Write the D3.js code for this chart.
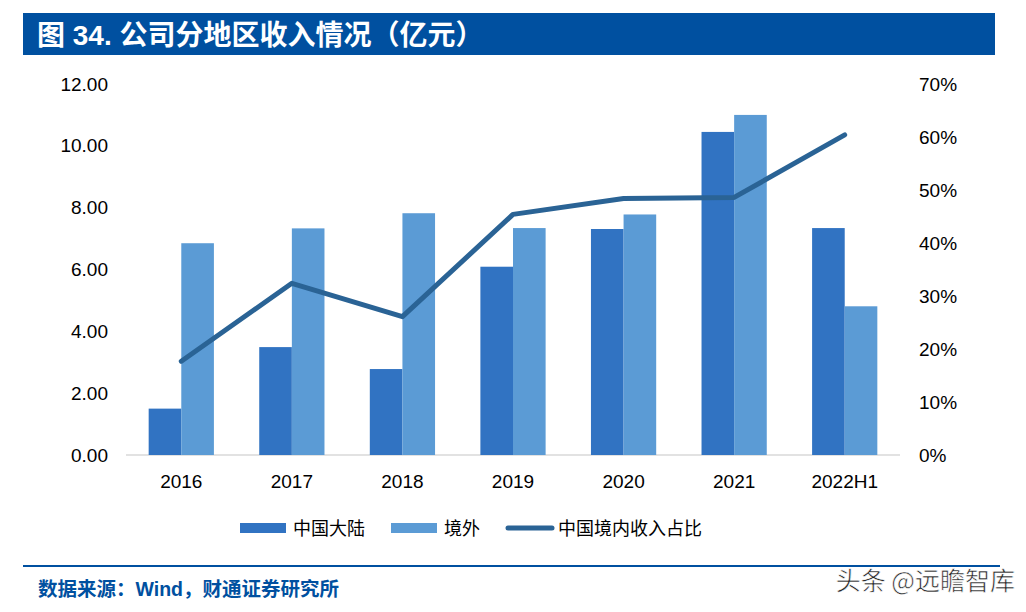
<!DOCTYPE html>
<html><head><meta charset="utf-8">
<script src="https://cdn.jsdelivr.net/npm/d3@7/dist/d3.min.js"></script>
<style>body{margin:0;background:#fff}svg{display:block}</style>
</head><body>
<svg id="c" width="1026" height="612"></svg>
<script>
const categories = ["2016","2017","2018","2019","2020","2021","2022H1"];
const mainland = [1.50, 3.49, 2.78, 6.09, 7.31, 10.45, 7.34];
const overseas = [6.85, 7.33, 7.82, 7.34, 7.78, 11.00, 4.81];
const share = [0.177, 0.324, 0.261, 0.454, 0.484, 0.486, 0.604];
const leftTicks = [0,2,4,6,8,10,12];
const rightTicks = [0,0.1,0.2,0.3,0.4,0.5,0.6,0.7];
const seriesNames = ["中国大陆","境外","中国境内收入占比"];
const titleText = "图 34. 公司分地区收入情况（亿元）";
const sourceText = "数据来源：Wind，财通证券研究所";
const watermark = "头条 @远瞻智库";

const svg = d3.select("#c");
const C1 = "#3173c2", C2 = "#5b9bd5", C3 = "#2a6395";
const latin = "'Liberation Sans', Arial, sans-serif";
const cjk = "'Noto Sans CJK SC', sans-serif";

// title bar
svg.append("rect").attr("x",23).attr("y",13).attr("width",972).attr("height",42).attr("fill","#0050a0");
svg.append("text").attr("x",37).attr("y",45).attr("fill","#fff")
  .attr("font-family","'Liberation Sans', 'Noto Sans CJK SC', sans-serif").attr("font-size",28).attr("font-weight","bold")
  .text(titleText);

const x0 = d3.scaleBand().domain(categories).range([126,900]).paddingInner(0.41).paddingOuter(0.205);
const y = d3.scaleLinear().domain([0,12]).range([455,84]);
const y2 = d3.scaleLinear().domain([0,0.7]).range([455,84]);
const x1 = d3.scaleBand().domain([0,1]).range([0,x0.bandwidth()]);

// baseline
svg.append("line").attr("x1",126).attr("x2",900).attr("y1",y(0)).attr("y2",y(0)).attr("stroke","#d9d9d9").attr("stroke-width",1.5);

const la = svg.append("g").attr("transform","translate(108,0)")
  .call(d3.axisLeft(y).tickValues(leftTicks).tickFormat(d3.format(".2f")).tickSize(0).tickPadding(0));
la.select(".domain").remove();
la.selectAll("text").attr("font-family",latin).attr("font-size",19).attr("fill","#000");

const ra = svg.append("g").attr("transform","translate(919,0)")
  .call(d3.axisRight(y2).tickValues(rightTicks).tickFormat(d3.format(".0%")).tickSize(0).tickPadding(0));
ra.select(".domain").remove();
ra.selectAll("text").attr("font-family",latin).attr("font-size",19).attr("fill","#000");

const xa = svg.append("g").attr("transform","translate(0,"+(y(0)+12)+")")
  .call(d3.axisBottom(x0).tickSize(0).tickPadding(8));
xa.select(".domain").remove();
xa.selectAll("text").attr("font-family",latin).attr("font-size",19).attr("fill","#000");

const g = svg.append("g");
categories.forEach((c,i)=>{
  [mainland[i], overseas[i]].forEach((v,j)=>{
    g.append("rect").attr("x",x0(c)+x1(j)).attr("y",y(v)).attr("width",x1.bandwidth())
      .attr("height",y(0)-y(v)).attr("fill", j===0?C1:C2);
  });
});

const line = d3.line().x((d,i)=>x0(categories[i])+x0.bandwidth()/2).y(d=>y2(d));
svg.append("path").datum(share).attr("d",line).attr("fill","none").attr("stroke",C3)
  .attr("stroke-width",5).attr("stroke-linecap","round").attr("stroke-linejoin","round");

// legend
const lg = svg.append("g");
const legendX = [240, 391, 505];
seriesNames.forEach((n,i)=>{
  if(i<2){
    lg.append("rect").attr("x",legendX[i]).attr("y",523).attr("width",46).attr("height",10).attr("fill",i===0?C1:C2);
  } else {
    lg.append("line").attr("x1",legendX[i]+3).attr("x2",legendX[i]+47).attr("y1",528).attr("y2",528)
      .attr("stroke",C3).attr("stroke-width",5).attr("stroke-linecap","round");
  }
  lg.append("text").attr("x",legendX[i]+53).attr("y",535).attr("font-family",cjk)
    .attr("font-size",18).attr("fill","#000").text(n);
});

// footer
svg.append("line").attr("x1",23).attr("x2",1000).attr("y1",566).attr("y2",566).attr("stroke","#0050a0").attr("stroke-width",2);
svg.append("text").attr("x",38).attr("y",596).attr("font-family","'Liberation Sans','Noto Sans CJK SC',sans-serif")
  .attr("font-size",19.5).attr("font-weight","bold").attr("fill","#0050a0").text(sourceText);
svg.append("text").attr("x",1015).attr("y",590).attr("text-anchor","end").attr("font-family",cjk)
  .attr("font-size",25).attr("fill","#222").attr("stroke","#fff").attr("stroke-width",0.6).text(watermark);
</script>
</body></html>
